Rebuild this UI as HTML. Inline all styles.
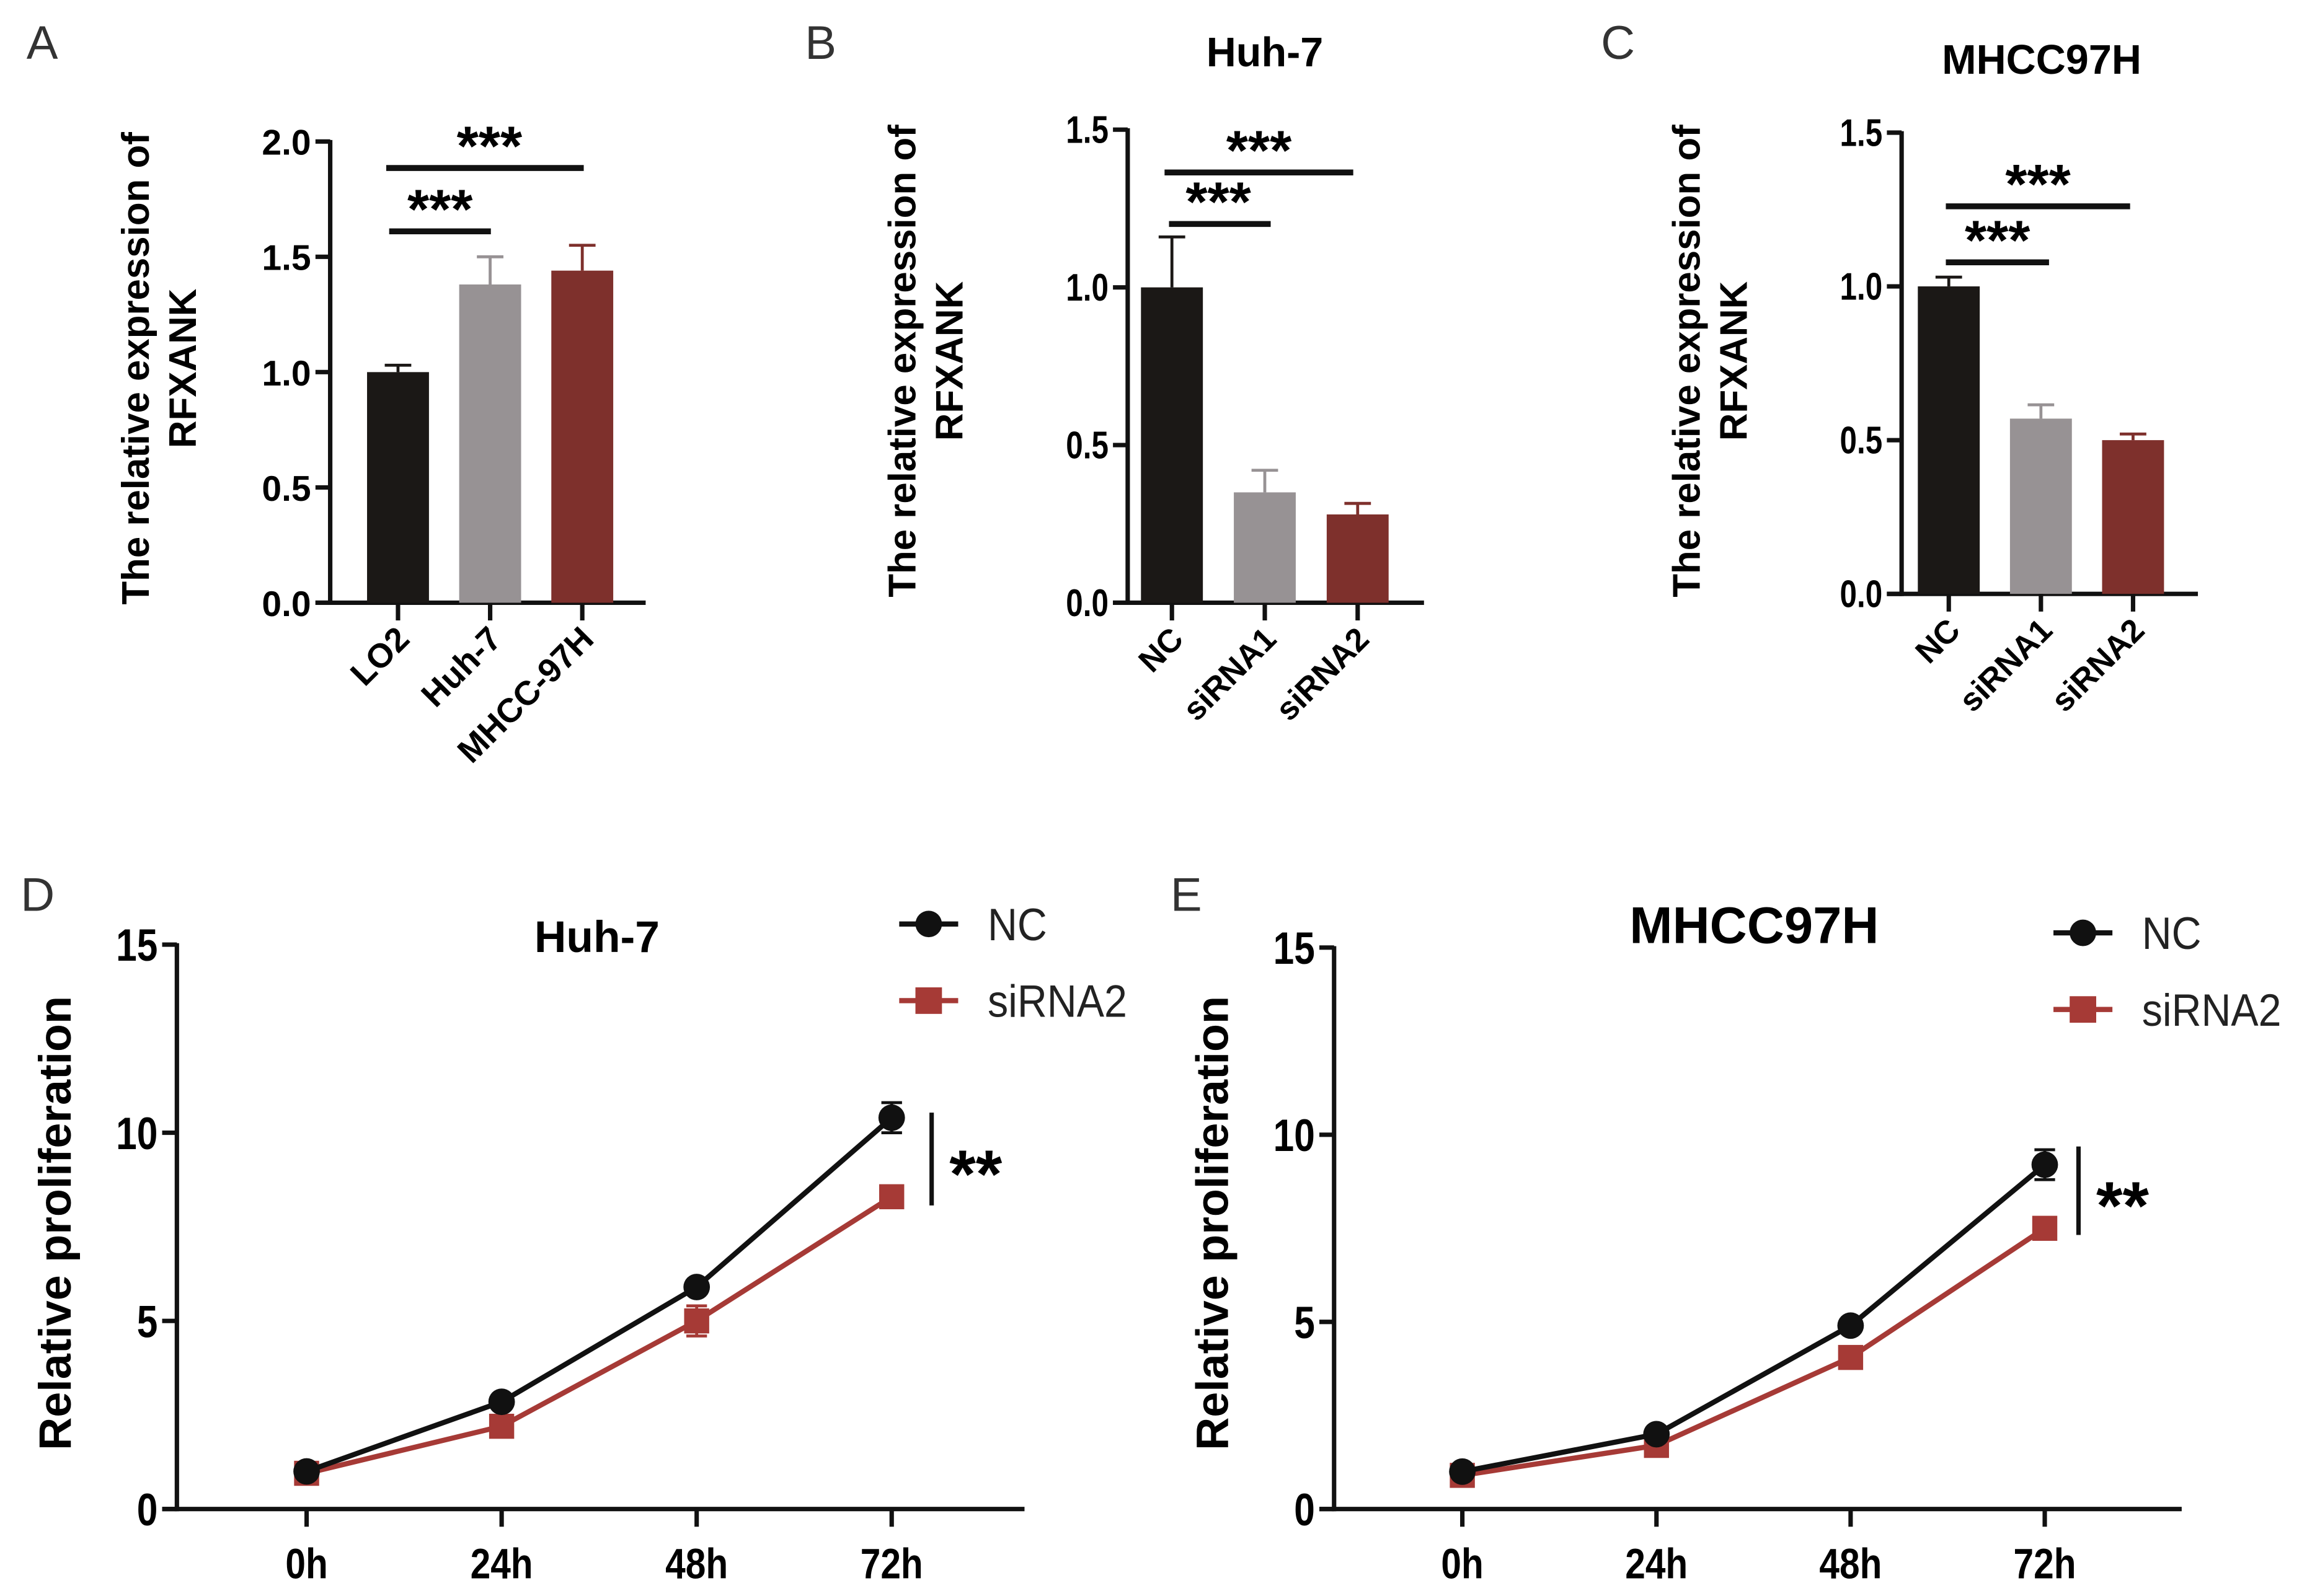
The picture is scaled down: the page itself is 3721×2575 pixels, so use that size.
<!DOCTYPE html>
<html><head><meta charset="utf-8">
<style>
html,body{margin:0;padding:0;background:#fff;}
svg{display:block;}
text{font-family:"Liberation Sans",Arial,sans-serif;}
.b{font-weight:bold;}
.n{font-family:"Liberation Sans Narrow","Liberation Sans",sans-serif;font-weight:bold;}
</style></head>
<body>
<svg id="fig" width="3721" height="2575" viewBox="0 0 1565 1083" xmlns="http://www.w3.org/2000/svg">
<rect width="1565" height="1083" fill="#fff"/>
</svg>
<script>
// ---- Panel A data ----
const catsA = ["LO2","Huh-7","MHCC-97H"];
const valsA = [1.0,1.38,1.44];
const errsA = [0.03,0.12,0.11];
const ticksA = [0,0.5,1.0,1.5,2.0];
// ---- Panel B data ----
const catsB = ["NC","siRNA1","siRNA2"];
const valsB = [1.0,0.35,0.28];
const errsB = [0.16,0.07,0.035];
const ticksB = [0,0.5,1.0,1.5];
// ---- Panel C data ----
const catsC = ["NC","siRNA1","siRNA2"];
const valsC = [1.0,0.57,0.50];
const errsC = [0.03,0.045,0.02];
const ticksC = [0,0.5,1.0,1.5];
// ---- Panel D data ----
const timeCats = ["0h","24h","48h","72h"];
const ncD = [1.0,2.85,5.9,10.4];
const ncDerr = [0.1,0.12,0.15,0.4];
const siD = [0.95,2.2,5.0,8.3];
const siDerr = [0.1,0.12,0.4,0.15];
// ---- Panel E data ----
const ncE = [1.0,2.0,4.9,9.2];
const ncEerr = [0.1,0.1,0.12,0.4];
const siE = [0.9,1.7,4.05,7.5];
const siEerr = [0.1,0.1,0.12,0.15];
const ticksLine = [0,5,10,15];

const NS="http://www.w3.org/2000/svg";
const svg=document.getElementById('fig');
function el(tag,attrs,parent,txt){const e=document.createElementNS(NS,tag);for(const k in attrs)e.setAttribute(k,attrs[k]);if(txt!==undefined)e.textContent=txt;(parent||svg).appendChild(e);return e;}
const colors=["#1b1816","#979294","#7e302c"];

function panelLetter(t,x,y){
  const e=el('text',{x:x,y:y,'font-size':32,fill:'#333'},svg,t);
  
  
}

function barPanel(o){
  const g=el('g',{});
  
  
  const y=v=>o.y0-(v/o.ymax)*(o.y0-o.ytop);
  const xs=i=>o.x0+o.first+i*o.step;
  const ya=el('line',{x1:o.x0,y1:o.ytop-1,x2:o.x0,y2:o.y0+1.5,stroke:'#111','stroke-width':3},g);
  
  
  const xa=el('line',{x1:o.x0-10,y1:o.y0,x2:o.xend,y2:o.y0,stroke:'#111','stroke-width':3},g);
  
  
  o.ticks.forEach(t=>{
    el('line',{x1:o.x0-10,y1:y(t),x2:o.x0,y2:y(t),stroke:'#111','stroke-width':3},g);
    const lb=el('text',{x:o.x0-13,y:y(t)+9,'text-anchor':'end','font-size':o.tfs,class:o.tcls},g,t.toFixed(1));
    if(o.tsx) lb.setAttribute('transform','translate('+(o.x0-13)+',0) scale('+o.tsx+',1) translate('+(-(o.x0-13))+',0)');
    
    
  });
  o.vals.forEach((v,i)=>{
    const cx=xs(i);
    const ey=y(v+o.errs[i]);
    el('line',{x1:cx,y1:ey,x2:cx,y2:y(v),stroke:colors[i],'stroke-width':2},g);
    el('line',{x1:cx-9,y1:ey,x2:cx+9,y2:ey,stroke:colors[i],'stroke-width':2},g);
    const r=el('rect',{x:cx-o.bw/2,y:y(v),width:o.bw,height:o.y0-y(v),fill:colors[i]},g);
    
    
    el('line',{x1:cx,y1:o.y0,x2:cx,y2:o.y0+12,stroke:'#111','stroke-width':3},g);
    const lb=el('text',{x:cx+9,y:o.y0+26,'text-anchor':'end','font-size':o.cfs,class:'b','font-style':o.cital?'italic':'normal',transform:'rotate(-45 '+(cx+9)+' '+(o.y0+26)+')'},g,o.cats[i]);
    
    
  });
  o.sig.forEach(s=>{
    const l=el('line',{x1:s.x1,y1:s.y,x2:s.x2,y2:s.y,stroke:'#111','stroke-width':4},g);
    
    
    const t=el('text',{x:(s.x1+s.x2)/2+s.dx,y:s.y-2,'text-anchor':'middle','font-size':38,class:'b'},g,'***');
    
    
  });
  const yt=el('text',{x:0,y:0,'text-anchor':'middle','font-size':o.yfs,class:'b',transform:'translate('+o.ytx+','+o.tyc+') rotate(-90)'},g);
  
  
  el('tspan',{x:0,dy:0,'xml:space':'preserve'},yt,o.t1);
  el('tspan',{x:0,dy:o.ygap},yt,'RFXANK');
  if(o.title){
    const tt=el('text',{x:o.titleX,y:o.titleY,'text-anchor':'middle','font-size':o.titleFs,class:'b'},g,o.title);
    
    
  }
}

panelLetter('A',18,40);
barPanel({name:'panel-a-bar-chart',x0:224,y0:409,ytop:96,ymax:2.0,first:46,step:62.5,bw:42,xend:438,ticks:ticksA,vals:valsA,errs:errsA,cats:catsA,
  tfs:24,tcls:'b',cfs:23,ytx:101,tyc:250,yfs:26,ygap:32,t1:'The  relative expression of',
  sig:[{x1:262,x2:396,y:114,dx:3},{x1:264,x2:333,y:157,dx:0}]});
panelLetter('B',546,40);
barPanel({name:'panel-b-bar-chart',x0:765,y0:409,ytop:88,ymax:1.5,first:30,step:63,bw:42,xend:966,ticks:ticksB,vals:valsB,errs:errsB,cats:catsB,
  tfs:26,tcls:'b',tsx:0.8,cfs:22,ytx:621,tyc:245,yfs:26,ygap:32,t1:'The    relative expression of',title:'Huh-7',titleX:858,titleY:45,titleFs:28,
  sig:[{x1:790,x2:918,y:117,dx:0},{x1:793,x2:862,y:152,dx:-1}]});
panelLetter('C',1086,40);
barPanel({name:'panel-c-bar-chart',x0:1290,y0:403,ytop:90,ymax:1.5,first:32,step:62.5,bw:42,xend:1491,ticks:ticksC,vals:valsC,errs:errsC,cats:catsC,
  tfs:26,tcls:'b',tsx:0.8,cfs:22,ytx:1153,tyc:245,yfs:26,ygap:32,t1:'The    relative expression of',title:'MHCC97H',titleX:1385,titleY:50,titleFs:28,
  sig:[{x1:1320,x2:1445,y:140,dx:0},{x1:1320,x2:1390,y:178,dx:0}]});

function linePanel(o){
  const g=el('g',{});
  
  
  const y=v=>o.y0-(v/15)*(o.y0-o.ytop);
  const xs=i=>o.x0+o.first+i*o.step;
  const ya=el('line',{x1:o.x0,y1:o.ytop-1,x2:o.x0,y2:o.y0+1.5,stroke:'#111','stroke-width':3},g);
  
  
  const xa=el('line',{x1:o.x0-10,y1:o.y0,x2:o.xend,y2:o.y0,stroke:'#111','stroke-width':3},g);
  
  
  ticksLine.forEach(t=>{
    el('line',{x1:o.x0-10,y1:y(t),x2:o.x0,y2:y(t),stroke:'#111','stroke-width':3},g);
    const tx=o.x0-13;
    const lb=el('text',{x:tx,y:y(t)+11,'text-anchor':'end','font-size':31,class:'b',transform:'translate('+tx+',0) scale(0.82,1) translate('+(-tx)+',0)'},g,String(t));
    
    
  });
  timeCats.forEach((c,i)=>{
    el('line',{x1:xs(i),y1:o.y0,x2:xs(i),y2:o.y0+12,stroke:'#111','stroke-width':3},g);
    const cx=xs(i);
    const lb=el('text',{x:cx,y:o.y0+47,'text-anchor':'middle','font-size':29,class:'b',transform:'translate('+cx+',0) scale(0.85,1) translate('+(-cx)+',0)'},g,c);
    
    
  });
  const series=[{v:o.si,e:o.siErr,c:'#a63a36',m:'#a63a36',sq:true,n:'siRNA2'},{v:o.nc,e:o.ncErr,c:'#111',m:'#111',sq:false,n:'NC'}];
  series.forEach(s=>{
    const pts=s.v.map((v,i)=>xs(i)+','+y(v)).join(' ');
    const pl=el('polyline',{points:pts,fill:'none',stroke:s.c,'stroke-width':3.5},g);
    
    
    s.v.forEach((v,i)=>{
      const cx=xs(i),cy=y(v),t=y(v+s.e[i]),b=y(v-s.e[i]);
      el('line',{x1:cx,y1:t,x2:cx,y2:b,stroke:s.c,'stroke-width':2},g);
      el('line',{x1:cx-7,y1:t,x2:cx+7,y2:t,stroke:s.c,'stroke-width':2},g);
      el('line',{x1:cx-7,y1:b,x2:cx+7,y2:b,stroke:s.c,'stroke-width':2},g);
      let m;
      if(s.sq) m=el('rect',{x:cx-8.5,y:cy-8.5,width:17,height:17,fill:s.m},g);
      else m=el('circle',{cx:cx,cy:cy,r:9,fill:s.m},g);
      
      
    });
  });
  [{n:'NC',c:'#111',sq:false,dy:0},{n:'siRNA2',c:'#a63a36',sq:true,dy:52}].forEach(L=>{
    const ly=o.legY+L.dy;
    const lg=el('g',{},g);
    
    
    el('line',{x1:o.legX-20,y1:ly,x2:o.legX+20,y2:ly,stroke:L.c,'stroke-width':3.5},lg);
    if(L.sq) el('rect',{x:o.legX-9,y:ly-9,width:18,height:18,fill:L.c},lg);
    else el('circle',{cx:o.legX,cy:ly,r:9,fill:L.c},lg);
    const tx=o.legX+40;
    el('text',{x:tx,y:ly+11,'font-size':31,fill:'#222',transform:'translate('+tx+',0) scale(0.9,1) translate('+(-tx)+',0)'},lg,L.n);
  });
  const sl=el('line',{x1:o.sigX,y1:o.sigY1,x2:o.sigX,y2:o.sigY2,stroke:'#111','stroke-width':3},g);
  
  
  const st=el('text',{x:o.sigX+12,y:(o.sigY1+o.sigY2)/2+26,'font-size':46,class:'b'},g,'**');
  
  
  const tt=el('text',{x:o.titleX,y:o.titleY,'text-anchor':'middle','font-size':o.titleFs,class:'b'},g,o.title);
  
  
  const yt=el('text',{x:0,y:0,'text-anchor':'middle','font-size':31,class:'b',transform:'translate('+o.ytx+',830) rotate(-90)'},g,'Relative proliferation');
  
  
}
panelLetter('D',14,618);
linePanel({name:'panel-d-line-chart',x0:120,y0:1024,ytop:641,first:88,step:132.3,xend:695,nc:ncD,ncErr:ncDerr,si:siD,siErr:siDerr,
  legX:630,legY:627,sigX:632,sigY1:755,sigY2:818,title:'Huh-7',titleX:405,titleY:646,titleFs:30,ytx:48});
panelLetter('E',794,618);
linePanel({name:'panel-e-line-chart',x0:905,y0:1024,ytop:643,first:87,step:131.7,xend:1480,nc:ncE,ncErr:ncEerr,si:siE,siErr:siEerr,
  legX:1413,legY:633,sigX:1410,sigY1:778,sigY2:838,title:'MHCC97H',titleX:1190,titleY:640,titleFs:35,ytx:833});
</script>
</body></html>
